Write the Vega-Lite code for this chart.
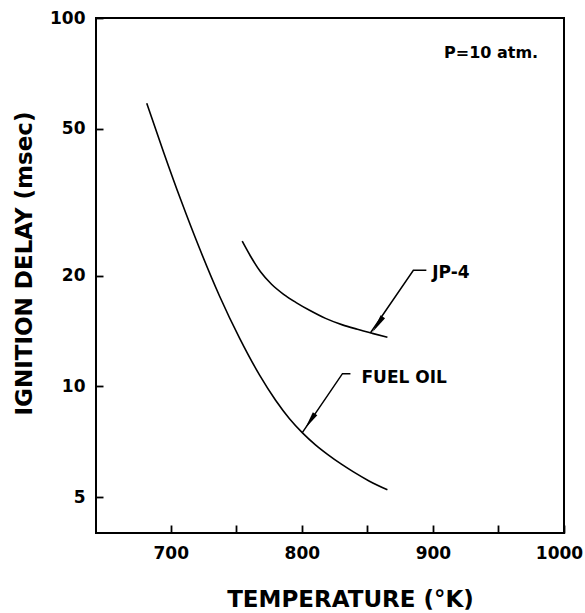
{
  "$schema": "https://vega.github.io/schema/vega-lite/v6.json",
  "autosize": "none",
  "width": 468,
  "height": 515,
  "padding": {"left": 96, "top": 18, "right": 21, "bottom": 80},
  "background": "white",
  "config": {
    "view": {"stroke": "black", "strokeWidth": 2},
    "font": "DejaVu Sans",
    "axis": {
      "domain": false,
      "grid": false,
      "tickColor": "black",
      "tickWidth": 1.8,
      "labelColor": "black",
      "labelFont": "DejaVu Sans",
      "labelFontWeight": "bold",
      "labelFontSize": 17,
      "titleColor": "black",
      "titleFont": "DejaVu Sans",
      "titleFontWeight": "bold",
      "titleFontSize": 23
    }
  },
  "datasets": {
    "curves": [
      {"fuel": "Fuel oil", "T": 681.7, "ms": 58.7},
      {"fuel": "Fuel oil", "T": 694.7, "ms": 43.1},
      {"fuel": "Fuel oil", "T": 707.6, "ms": 32.15},
      {"fuel": "Fuel oil", "T": 722.1, "ms": 23.63},
      {"fuel": "Fuel oil", "T": 737.3, "ms": 17.57},
      {"fuel": "Fuel oil", "T": 752.6, "ms": 13.5},
      {"fuel": "Fuel oil", "T": 767.8, "ms": 10.73},
      {"fuel": "Fuel oil", "T": 780.0, "ms": 9.17},
      {"fuel": "Fuel oil", "T": 790.6, "ms": 8.17},
      {"fuel": "Fuel oil", "T": 800.5, "ms": 7.48},
      {"fuel": "Fuel oil", "T": 810.4, "ms": 6.94},
      {"fuel": "Fuel oil", "T": 819.6, "ms": 6.54},
      {"fuel": "Fuel oil", "T": 830.2, "ms": 6.15},
      {"fuel": "Fuel oil", "T": 839.4, "ms": 5.86},
      {"fuel": "Fuel oil", "T": 851.6, "ms": 5.53},
      {"fuel": "Fuel oil", "T": 865.3, "ms": 5.24},
      {"fuel": "JP-4", "T": 754.5, "ms": 24.8},
      {"fuel": "JP-4", "T": 760.9, "ms": 22.56},
      {"fuel": "JP-4", "T": 768.5, "ms": 20.47},
      {"fuel": "JP-4", "T": 776.9, "ms": 18.93},
      {"fuel": "JP-4", "T": 786.1, "ms": 17.78},
      {"fuel": "JP-4", "T": 796.0, "ms": 16.86},
      {"fuel": "JP-4", "T": 805.9, "ms": 16.09},
      {"fuel": "JP-4", "T": 818.1, "ms": 15.30},
      {"fuel": "JP-4", "T": 831.0, "ms": 14.69},
      {"fuel": "JP-4", "T": 842.4, "ms": 14.29},
      {"fuel": "JP-4", "T": 853.8, "ms": 13.93},
      {"fuel": "JP-4", "T": 865.3, "ms": 13.59}
    ],
    "leaders": [
      {"name": "JP-4", "step": 1, "T": 895, "ms": 20.66},
      {"name": "JP-4", "step": 2, "T": 885.1, "ms": 20.66},
      {"name": "JP-4", "step": 3, "T": 852.3, "ms": 13.96},
      {"name": "Fuel oil", "step": 1, "T": 837.1, "ms": 10.83},
      {"name": "Fuel oil", "step": 2, "T": 831, "ms": 10.83},
      {"name": "Fuel oil", "step": 3, "T": 800.5, "ms": 7.5}
    ],
    "arrows": [
      {"name": "JP-4", "T": 858.0, "ms": 14.75},
      {"name": "Fuel oil", "T": 806.3, "ms": 8.05}
    ],
    "notes": [
      {"text": "P=10  atm.", "T": 980.3, "ms": 77.8}
    ],
    "labels": [
      {"text": "JP-4", "T": 899.5, "ms": 19.66},
      {"text": "FUEL  OIL", "T": 845.5, "ms": 10.19}
    ]
  },
  "encoding": {
    "x": {
      "field": "T",
      "type": "quantitative",
      "scale": {"domain": [643, 1000], "nice": false, "zero": false},
      "axis": {
        "title": "TEMPERATURE  (°K)",
        "values": [700, 750, 800, 850, 900, 950, 1000],
        "labelExpr": "datum.value % 100 == 0 ? datum.label : ''",
        "format": "d",
        "tickSize": -8,
        "labelPadding": 20,
        "labelOffset": {"condition": {"test": "datum.value == 1000", "value": -5}, "value": 0},
        "titleX": 254,
        "titleY": 73,
        "titleAlign": "center",
        "titleBaseline": "alphabetic",
        "labelFlush": false,
        "labelOverlap": false
      }
    },
    "y": {
      "field": "ms",
      "type": "quantitative",
      "scale": {"type": "log", "domain": [4, 100], "nice": false},
      "axis": {
        "title": "IGNITION  DELAY  (msec)",
        "values": [5, 10, 20, 50, 100],
        "format": "d",
        "tickSize": -7,
        "labelPadding": 18,
        "titleX": -65,
        "titleY": 245,
        "titleAlign": "center",
        "titleBaseline": "alphabetic",
        "labelFlush": false,
        "labelOverlap": false
      }
    }
  },
  "layer": [
    {
      "data": {"name": "curves"},
      "mark": {"type": "line", "color": "black", "strokeWidth": 1.6, "interpolate": "monotone"},
      "encoding": {"detail": {"field": "fuel"}}
    },
    {
      "data": {"name": "leaders"},
      "mark": {"type": "line", "color": "black", "strokeWidth": 1.5},
      "encoding": {
        "detail": {"field": "name"},
        "order": {"field": "step"}
      }
    },
    {
      "data": {"name": "arrows"},
      "mark": {
        "type": "point",
        "shape": "M0,-1L0.3,1L-0.3,1Z",
        "filled": true,
        "color": "black",
        "opacity": 1,
        "size": 320,
        "angle": 214
      },
      "encoding": {}
    },
    {
      "data": {"name": "notes"},
      "mark": {
        "type": "text",
        "font": "DejaVu Sans",
        "fontWeight": "bold",
        "fontSize": 16,
        "color": "black",
        "align": "right",
        "baseline": "alphabetic"
      },
      "encoding": {"text": {"field": "text"}}
    },
    {
      "data": {"name": "labels"},
      "mark": {
        "type": "text",
        "font": "DejaVu Sans",
        "fontWeight": "bold",
        "fontSize": 17,
        "color": "black",
        "align": "left",
        "baseline": "alphabetic"
      },
      "encoding": {"text": {"field": "text"}}
    }
  ]
}
